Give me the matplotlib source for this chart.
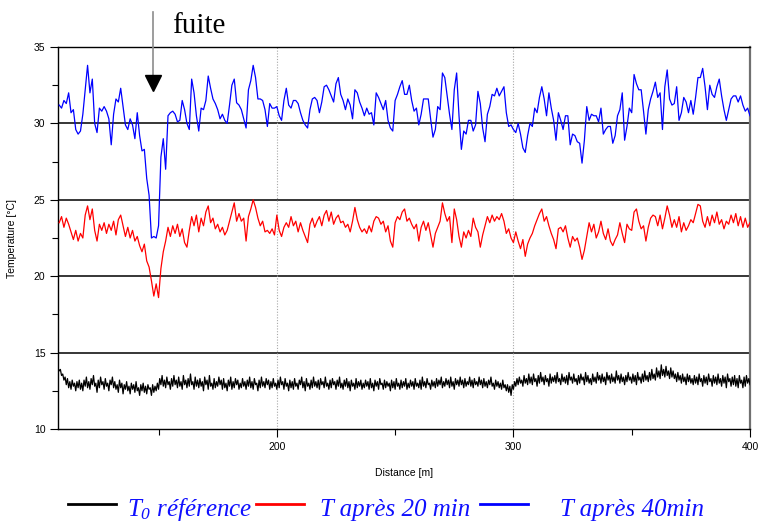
import numpy as np
import matplotlib
matplotlib.use("Agg")
import matplotlib.pyplot as plt
from matplotlib.lines import Line2D

plt.rcParams["mathtext.fontset"] = "custom"
plt.rcParams["mathtext.it"] = "Liberation Serif:italic"
plt.rcParams["mathtext.rm"] = "Liberation Serif:italic"

# ---------------- data ----------------
start_1m = 108.0      # first distance of red / blue series [m], step 1 m
start_05m = 107.5     # first distance of reference series [m], step 0.5 m

t_40min = [
    31.2, 31.0, 31.5, 31.3, 32.0, 30.7, 30.9, 29.6, 29.3, 29.5,
    30.6, 32.2, 33.8, 32.0, 32.9, 30.0, 29.4, 31.0, 30.8, 31.1,
    30.8, 30.3, 28.6, 30.6, 31.6, 31.4, 32.3, 31.1, 29.9, 29.6,
    30.3, 29.9, 29.0, 30.7, 29.2, 28.2, 28.3, 26.4, 25.3, 22.5,
    22.6, 22.5, 23.3, 27.8, 29.0, 27.0, 30.5, 30.7, 30.8, 30.6,
    30.1, 30.2, 31.5, 30.9, 30.0, 29.6, 32.9, 32.0, 30.5, 29.5,
    31.0, 30.9, 31.5, 33.1, 32.3, 31.6, 31.3, 30.9, 30.3, 30.6,
    30.2, 30.0, 31.2, 32.5, 32.9, 31.35, 31.2, 30.9, 30.3, 29.7,
    32.2, 32.8, 33.8, 33.0, 31.6, 31.6, 31.5, 30.9, 29.8, 31.3,
    31.0, 31.0, 31.1, 30.5, 30.2, 31.5, 32.3, 31.2, 31.0, 31.5,
    31.5, 31.3, 30.7, 30.2, 29.9, 29.7, 30.9, 31.6, 31.7, 31.5,
    30.7, 31.4, 32.4, 32.5, 32.2, 31.8, 31.4, 32.6, 33.0, 31.9,
    31.5, 30.9, 31.6, 31.2, 30.3, 32.2, 32.0, 31.4, 31.0, 30.5,
    31.0, 30.6, 30.7, 29.9, 32.0, 31.7, 31.3, 30.9, 31.5, 30.2,
    29.7, 29.5, 31.5, 31.9, 32.4, 32.8, 31.9, 31.9, 32.5, 31.5,
    30.8, 31.0, 29.9, 30.6, 31.6, 31.6, 31.6, 30.3, 29.1, 29.6,
    31.1, 30.9, 33.3, 33.0, 31.8, 30.6, 29.6, 32.2, 33.3, 30.5,
    28.3, 29.5, 29.3, 30.2, 30.2, 29.5, 29.9, 32.1, 31.3, 29.7,
    28.8, 30.6, 31.1, 31.9, 31.8, 32.3, 31.8, 32.1, 32.4, 30.7,
    29.8, 29.9, 29.6, 29.4, 30.0, 29.3, 28.4, 28.1, 29.2, 30.0,
    29.8, 31.0, 30.7, 31.7, 32.4, 31.6, 30.5, 32.0, 31.0, 30.2,
    28.9, 30.7, 30.2, 29.6, 30.5, 30.5, 28.6, 29.3, 29.2, 28.8,
    28.7, 27.4, 28.9, 31.1, 30.2, 30.6, 30.5, 30.5, 30.1, 31.0,
    29.3, 29.6, 29.8, 29.8, 28.7, 29.2, 30.5, 30.9, 32.0, 28.9,
    29.8, 31.0, 30.7, 33.2, 32.6, 32.2, 32.2, 30.8, 29.3, 30.9,
    31.6, 32.1, 32.7, 31.7, 32.0, 29.6, 32.4, 33.5, 31.6, 31.2,
    31.3, 32.4, 30.2, 30.7, 31.7, 31.4, 30.7, 31.5, 30.6, 31.7,
    33.0, 33.0, 33.6, 32.4, 30.9, 32.5, 31.9, 31.7, 32.4, 32.9,
    31.8, 30.9, 30.2, 30.9, 31.6, 31.8, 31.8, 31.4, 31.8, 31.2,
    30.8, 31.0, 30.5,
]

t_20min = [
    23.5, 23.9, 23.2, 23.8, 23.4, 22.9, 22.4, 23.0, 22.3, 22.8,
    22.5, 24.0, 24.6, 23.7, 24.4, 23.0, 22.3, 23.4, 23.0, 23.5,
    22.8, 23.4, 23.0, 23.6, 22.7, 23.7, 24.0, 23.3, 22.6, 23.2,
    22.5, 23.0, 22.3, 22.6, 22.0, 21.6, 22.1, 21.0, 20.6, 19.7,
    18.7, 19.5, 18.6, 20.5, 21.6, 22.3, 23.2, 22.6, 23.3, 22.8,
    23.4, 22.6, 23.1, 22.2, 21.9, 23.0, 23.9, 23.3, 24.0, 22.9,
    23.8, 23.3, 24.2, 24.6, 23.5, 23.8, 23.1, 23.4, 22.9, 23.2,
    22.7, 23.0, 23.6, 24.2, 24.8, 23.6, 24.1, 23.6, 23.8, 22.3,
    23.9, 24.4, 25.0, 24.5, 23.8, 23.3, 23.6, 22.9, 23.0, 22.8,
    23.1, 22.7, 24.0, 23.0, 22.6, 23.2, 23.5, 23.2, 23.9, 23.3,
    23.6, 22.9, 23.5, 23.0, 22.6, 22.2, 23.4, 23.8, 23.2, 23.6,
    23.9, 23.3, 24.0, 24.3, 23.6, 24.2, 23.4, 23.8, 24.0, 23.5,
    23.6, 23.2, 23.4, 22.9, 23.6, 24.5, 23.7, 23.2, 22.9, 23.1,
    22.8, 23.3, 22.9, 23.6, 23.9, 23.8, 23.4, 23.6, 22.9, 23.3,
    22.3, 21.9, 23.5, 23.9, 23.7, 24.2, 24.4, 23.6, 23.8, 23.4,
    23.1, 23.4, 22.3, 23.2, 23.6, 23.0, 23.5, 22.7, 21.9, 22.8,
    23.2, 23.6, 24.8, 24.1, 23.6, 23.9, 22.2, 24.4, 23.7, 22.6,
    21.9, 22.9, 22.5, 23.0, 22.6, 23.8, 23.2, 22.9, 21.9, 22.7,
    23.3, 23.9, 23.5, 24.0, 23.6, 23.9, 23.7, 24.1, 23.6, 22.8,
    23.1, 22.5, 22.2, 22.9, 22.3, 21.8, 22.4, 21.3, 22.1, 22.5,
    22.8, 23.3, 23.7, 24.1, 24.4, 23.6, 23.9, 23.3, 22.8, 22.4,
    21.8, 23.1, 23.2, 22.9, 23.3, 22.5, 21.9, 22.6, 22.3, 22.5,
    21.9, 21.1, 21.7, 22.6, 23.5, 22.9, 23.4, 22.5, 22.9, 23.6,
    22.8, 22.4, 23.1, 22.3, 22.0, 22.4, 22.7, 23.5, 22.8, 22.2,
    23.4, 23.1, 23.0, 24.2, 24.4, 23.6, 23.1, 23.3, 22.3, 23.2,
    23.8, 24.0, 23.9, 23.3, 24.0, 23.1, 23.8, 24.6, 24.0, 23.2,
    23.7, 23.2, 23.9, 22.9, 23.5, 23.0, 23.3, 23.7, 23.5, 24.1,
    24.7, 24.6, 23.6, 23.2, 23.9, 23.3, 24.0, 23.5, 24.2, 23.4,
    23.7, 23.1, 23.6, 23.4, 24.0, 23.5, 24.1, 23.3, 23.9, 23.2,
    23.8, 23.2, 23.5,
]

t0_reference = [
    14.0, 13.8, 13.9, 13.5, 13.6, 13.2, 13.4, 12.9, 13.3, 12.7, 13.1, 12.6, 13.2, 12.8, 13.0, 12.5, 13.1, 12.7, 13.2, 12.6,
    13.0, 12.5, 13.2, 12.8, 13.4, 12.7, 13.1, 12.6, 13.3, 12.9, 13.5, 12.8, 13.0, 12.4, 13.2, 12.7, 13.4, 12.9, 13.1, 12.6,
    13.3, 12.8, 13.0, 12.5, 13.2, 12.9, 13.4, 12.7, 13.1, 12.6, 12.9, 12.4, 13.2, 12.7, 13.0, 12.3, 12.9, 12.6, 13.1, 12.5,
    12.8, 12.3, 13.0, 12.6, 12.9, 12.4, 13.1, 12.5, 12.7, 12.2, 12.9, 12.5, 13.0, 12.4, 12.8, 12.3, 12.9, 12.6, 12.7, 12.2,
    12.9, 12.4, 12.8, 12.5, 13.0, 12.6, 13.3, 12.9, 13.5, 12.8, 13.2, 12.7, 13.4, 12.9, 13.1, 12.6, 13.3, 12.8, 13.5, 12.9,
    13.2, 12.7, 13.4, 12.8, 13.1, 12.6, 13.5, 12.9, 13.2, 12.7, 13.3, 12.8, 13.6, 12.9, 13.1, 12.6, 13.4, 12.8, 13.2, 12.7,
    13.3, 12.8, 13.1, 12.5, 13.4, 12.9, 13.2, 12.6, 13.5, 12.8, 13.0, 12.6, 13.3, 12.7, 13.1, 12.8, 13.4, 12.9, 13.2, 12.6,
    13.3, 12.7, 13.0, 12.5, 13.2, 12.8, 13.4, 12.6, 13.1, 12.7, 13.3, 12.9, 13.2, 12.6, 13.0, 12.7, 13.3, 12.8, 13.1, 12.6,
    13.2, 12.8, 13.4, 12.7, 13.1, 12.6, 13.3, 12.9, 13.0, 12.5, 13.2, 12.7, 13.4, 12.8, 13.1, 12.7, 13.3, 12.9, 13.2, 12.6,
    13.1, 12.7, 13.3, 12.8, 13.0, 12.6, 13.2, 12.7, 13.4, 12.9, 13.1, 12.6, 13.3, 12.8, 13.0, 12.5, 13.2, 12.7, 13.1, 12.6,
    13.3, 12.8, 13.0, 12.6, 13.2, 12.9, 13.4, 12.7, 13.1, 12.5, 13.3, 12.8, 13.0, 12.6, 13.2, 12.7, 13.4, 12.8, 13.1, 12.7,
    13.2, 12.6, 13.3, 12.9, 13.1, 12.7, 13.4, 12.8, 13.0, 12.6, 13.2, 12.7, 13.3, 12.9, 13.1, 12.6, 13.2, 12.8, 13.4, 12.7,
    13.0, 12.6, 13.2, 12.8, 13.3, 12.7, 13.1, 12.5, 13.2, 12.8, 13.0, 12.6, 13.3, 12.7, 13.1, 12.8, 13.2, 12.6, 13.0, 12.7,
    13.2, 12.8, 13.1, 12.6, 13.3, 12.7, 13.0, 12.5, 13.2, 12.8, 13.1, 12.6, 13.3, 12.9, 13.0, 12.6, 13.2, 12.7, 13.1, 12.8,
    13.0, 12.5, 13.2, 12.7, 13.1, 12.6, 13.3, 12.8, 13.0, 12.6, 13.2, 12.7, 13.1, 12.8, 13.3, 12.6, 13.0, 12.7, 13.2, 12.8,
    13.1, 12.6, 13.3, 12.8, 13.0, 12.7, 13.2, 12.6, 13.4, 12.8, 13.1, 12.7, 13.3, 12.9, 13.0, 12.6, 13.2, 12.8, 13.1, 12.7,
    13.3, 12.8, 13.2, 12.9, 13.4, 12.7, 13.1, 12.8, 13.3, 12.9, 13.2, 12.7, 13.4, 12.8, 13.1, 12.6, 13.3, 12.9, 13.2, 12.8,
    13.4, 12.9, 13.2, 12.7, 13.3, 12.8, 13.1, 12.9, 13.4, 12.8, 13.2, 12.7, 13.3, 12.9, 13.1, 12.8, 13.4, 12.9, 13.2, 12.7,
    13.3, 12.8, 13.1, 12.7, 13.2, 12.9, 13.4, 12.8, 13.0, 12.6, 13.2, 12.8, 13.1, 12.7, 13.0, 12.6, 13.2, 12.7, 12.9, 12.5,
    12.9, 12.4, 12.8, 12.2, 12.9, 12.6, 13.1, 12.8, 13.3, 12.9, 13.4, 13.0, 13.2, 12.8, 13.5, 13.0, 13.3, 12.9, 13.6, 13.0,
    13.4, 12.9, 13.6, 13.1, 13.3, 12.8, 13.5, 13.0, 13.7, 13.1, 13.4, 12.9, 13.5, 13.1, 13.3, 12.8, 13.6, 13.0, 13.4, 13.1,
    13.5, 13.0, 13.7, 13.1, 13.3, 12.9, 13.6, 13.1, 13.4, 13.0, 13.5, 12.9, 13.7, 13.2, 13.4, 13.0, 13.6, 13.1, 13.3, 12.9,
    13.5, 13.0, 13.6, 13.2, 13.4, 12.9, 13.7, 13.1, 13.5, 13.0, 13.3, 12.9, 13.6, 13.1, 13.4, 13.0, 13.7, 13.2, 13.5, 13.0,
    13.6, 13.1, 13.4, 12.9, 13.7, 13.2, 13.5, 13.0, 13.6, 13.1, 13.4, 13.0, 13.8, 13.2, 13.5, 13.0, 13.6, 13.1, 13.4, 12.9,
    13.5, 13.1, 13.7, 13.2, 13.4, 13.0, 13.6, 13.1, 13.5, 12.9, 13.7, 13.2, 13.4, 13.0, 13.6, 13.1, 13.8, 13.2, 13.5, 13.1,
    13.7, 13.2, 13.9, 13.3, 13.6, 13.2, 14.0, 13.4, 13.8, 13.3, 14.2, 13.5, 13.9, 13.4, 14.1, 13.5, 13.8, 13.3, 14.0, 13.4,
    13.8, 13.3, 13.6, 13.1, 13.7, 13.2, 13.5, 13.0, 13.6, 13.1, 13.4, 12.9, 13.6, 13.1, 13.5, 13.0, 13.3, 12.9, 13.5, 13.0,
    13.4, 12.9, 13.6, 13.1, 13.3, 12.8, 13.5, 13.0, 13.4, 12.9, 13.6, 13.1, 13.3, 12.8, 13.5, 13.0, 13.4, 12.9, 13.6, 13.0,
    13.3, 12.8, 13.5, 13.0, 13.4, 12.7, 13.6, 13.1, 13.3, 12.8, 13.4, 12.9, 13.5, 12.8, 13.3, 12.7, 13.5, 13.0, 13.2, 12.7,
    13.4, 12.8, 13.5, 13.0, 13.3, 12.9,
]

x_major = [200, 300, 400]
x_minor = [150, 250, 350]
y_major = [10, 15, 20, 25, 30, 35]
y_minor = [12.5, 17.5, 22.5, 27.5, 32.5]
h_grid = [15, 20, 25, 30]
v_grid = [200, 300]

legend_labels = [r"$T_0$ référence", "T après 20 min", "T après 40min"]

# ---------------- figure ----------------
W, H = 760, 524
fig = plt.figure(figsize=(W / 100, H / 100), dpi=100)
ax = fig.add_axes([58 / W, 1 - 429 / H, (750 - 58) / W, (429 - 47) / H])

d_1m = start_1m + np.arange(len(t_40min))
d_05m = start_05m + 0.5 * np.arange(len(t0_reference))

for yv in h_grid:
    ax.axhline(yv, color="black", lw=1.1, zorder=1)
for xv in v_grid:
    ax.axvline(xv, color="#a8a8a8", lw=0.8, ls=(0, (1, 1.5)), zorder=1)

l0, = ax.plot(d_05m, t0_reference, color="black", lw=0.9, zorder=3)
l20, = ax.plot(d_1m, t_20min, color="#ff0000", lw=0.9, zorder=3)
l40, = ax.plot(d_1m, t_40min, color="#0000ff", lw=0.9, zorder=3)

ax.set_xlim(107.5, 400)
ax.set_ylim(10, 35)

ax.set_xticks(x_major)
ax.set_xticks(x_minor, minor=True)
ax.set_yticks(y_major)
ax.set_yticks(y_minor, minor=True)

tickfont = dict(family="Liberation Sans", size=7.5)
ax.set_xticklabels([str(v) for v in x_major], **tickfont)
ax.set_yticklabels([str(v) for v in y_major], **tickfont)
ax.tick_params(which="major", direction="out", length=6, width=0.8, pad=3)
ax.tick_params(which="minor", direction="out", length=4, width=0.8)

for s in ["left", "bottom", "top"]:
    ax.spines[s].set_color("black")
    ax.spines[s].set_linewidth(1.0)
ax.spines["right"].set_color("#707070")
ax.spines["right"].set_linewidth(1.6)

ax.set_xlabel("Distance [m]", family="Liberation Sans", size=7.5, labelpad=12)
ax.set_ylabel("Temperature [°C]", family="Liberation Sans", size=7.5, labelpad=12)

# leak annotation ("fuite")
arrow_x = 147.6
ax.plot([arrow_x, arrow_x], [37.3, 33.1], color="#8c8c8c", lw=1.2,
        clip_on=False, zorder=5)
ax.plot([arrow_x], [32.62], marker="v", ms=12, color="black",
        clip_on=False, zorder=6, ls="none")
fig.text(172 / W, 1 - 33 / H, "fuite", family="Liberation Serif", size=21,
         va="baseline", ha="left", color="black")

# legend below the chart
leg_y = 1 - 504 / H
txt_y = 1 - 516 / H
handles = [(68, 116, l0), (256, 304, l20), (480, 528, l40)]
text_x = [127, 320, 560]
for (x0, x1, ln), tx, lab in zip(handles, text_x, legend_labels):
    fig.add_artist(Line2D([x0 / W, x1 / W], [leg_y, leg_y],
                          color=ln.get_color(), lw=2.0,
                          transform=fig.transFigure))
    fig.text(tx / W, txt_y, lab, family="Liberation Serif", style="italic",
             size=18, color="#1010ff", va="baseline", ha="left")

fig.savefig("out.png", dpi=100)
